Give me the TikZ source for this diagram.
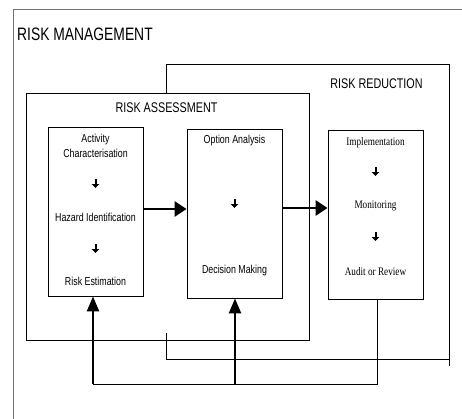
\documentclass[tikz,border=0pt]{standalone}
\usepackage{fontspec}
\setmainfont[FakeStretch=0.77]{Liberation Sans}
\newfontfamily\timesf[FakeStretch=0.8]{Liberation Serif}
\usetikzlibrary{arrows.meta,calc}
\begin{document}
\begin{tikzpicture}[x=1pt,y=-1pt,
  frame/.style={draw, line width=0.9pt},
  box/.style={draw, line width=0.9pt, minimum width=95pt, minimum height=169pt, inner sep=0pt},
  bigtitle/.style={font=\fontsize{18}{20}\selectfont, anchor=base west, inner sep=0pt},
  title/.style={font=\fontsize{14}{16}\selectfont, anchor=base, inner sep=0pt},
  item/.style={font=\fontsize{11.5}{13}\selectfont, anchor=base, inner sep=0pt},
  ritem/.style={font=\timesf\fontsize{11.5}{13}\selectfont, anchor=base, inner sep=0pt},
  smallarr/.style={line width=2pt, -{Triangle[length=4pt,width=7.5pt]}},
  bigh/.style={line width=2.8pt, -{Triangle[length=12pt,width=15pt]}},
  bigv/.style={line width=2.4pt, -{Triangle[length=15pt,width=12pt]}},
  thinline/.style={line width=0.9pt}]
\useasboundingbox (0,0) rectangle (462,418);
\fill[white] (0,0) rectangle (462,418);
% outer frame (risk management)
\draw[black!55, line width=1pt] (13,420) -- (13,9) -- (470,9);
\node[bigtitle] (rm) at (17,40) {RISK MANAGEMENT};
% risk reduction frame
\draw[frame] (166,93) -- (166,64) -- (449,64) -- (449,366);
\draw[frame] (166,333) -- (166,359) -- (450,359);
\node[title] (rr) at (376.5,88) {RISK REDUCTION};
% risk assessment frame
\draw[frame] (26,93) rectangle (309,340);
\node[title] (ra) at (166.5,112) {RISK ASSESSMENT};
% inner boxes
\node[box] (act) at (95.5,211.5) {};
\node[box] (opt) at (234.5,213.5) {};
\node[box] (imp) at (375.5,214.5) {};
% texts in activity box
\node[item] (a1) at (95.5,142) {Activity};
\node[item] (a2) at (95.5,157) {Characterisation};
\node[item] (a3) at (95.5,221) {Hazard Identification};
\node[item] (a4) at (95.5,285) {Risk Estimation};
\draw[smallarr] (95.5,179) -- (95.5,188);
\draw[smallarr] (95.5,244) -- (95.5,253);
% texts in option box
\node[item] (o1) at (234.5,143) {Option Analysis};
\node[item] (o2) at (234.5,273) {Decision Making};
\draw[smallarr] (234.5,199) -- (234.5,208);
% texts in implementation box
\node[ritem] (i1) at (375.5,145) {Implementation};
\node[ritem] (i2) at (375.5,208) {Monitoring};
\node[ritem] (i3) at (375.5,275) {Audit or Review};
\draw[smallarr] (375.5,167) -- (375.5,176);
\draw[smallarr] (375.5,232) -- (375.5,241);
% main flow arrows
\draw[bigh] ([yshift=2.5pt]act.east) -- ([yshift=2.5pt]act.east -| opt.west);
\draw[bigh] ([yshift=5.5pt]opt.east) -- ([yshift=5.5pt]opt.east -| imp.west);
% feedback
\coordinate (fbR) at (377,384);
\coordinate (fbM) at (235,384);
\coordinate (fbL) at (93,384);
\draw[thinline] (fbR |- imp.south) -- (fbR) -- (fbL);
\draw[bigv] (fbL) -- (fbL |- act.south);
\draw[bigv] (fbM) -- (fbM |- opt.south);
\end{tikzpicture}
\end{document}
